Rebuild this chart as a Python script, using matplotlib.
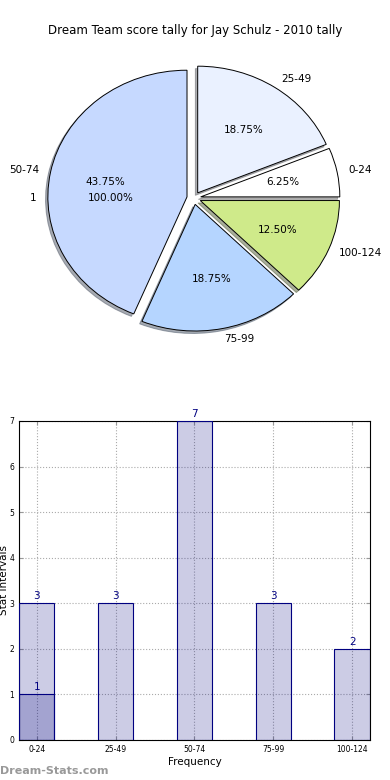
import matplotlib
matplotlib.use("Agg")
import matplotlib.pyplot as plt
import numpy as np

# data
intervals = ["0-24", "25-49", "50-74", "75-99", "100-124"]
pie_counts = [1, 3, 7, 3, 2]
bar_counts = [3, 3, 7, 3, 2]
extra_labels = ["1"]
extra_counts = [1]
pie_colors = ["#FFFFFF", "#EAF1FF", "#C6D9FF", "#B5D5FF", "#CFEA8A"]
title = "Dream Team score tally for Jay Schulz - 2010 tally"

fig = plt.figure(figsize=(3.9, 7.8), dpi=100)
fig.patch.set_facecolor("white")

# pie (top)
ax1 = fig.add_axes([0.051, 0.543, 0.892, 0.406])
# single wedge pie that sits behind the main one
w0, t0, p0 = ax1.pie(extra_counts, labels=extra_labels, autopct="%.2f%%",
                     colors=["white"], startangle=0, labeldistance=1.13,
                     wedgeprops=dict(linewidth=0), textprops=dict(fontsize=7.5))
for w in w0:
    w.set_zorder(0)
w1, t1, p1 = ax1.pie(pie_counts, labels=intervals, autopct="%.2f%%",
                     colors=pie_colors, explode=[0.05] * len(pie_counts),
                     startangle=0, labeldistance=1.08,
                     shadow=dict(ox=-0.012, oy=-0.014, shade=0.6),
                     wedgeprops=dict(edgecolor="black", linewidth=0.7),
                     textprops=dict(fontsize=7.5))
for t in list(t0) + list(t1):
    x, y = t.get_position()
    t.set_horizontalalignment("left" if x > 0 else "right")
ax1.set_aspect("auto")
ax1.set_xlim(-1.25, 1.25)
ax1.set_ylim(-1.25, 1.25)
fig.text(0.5, 0.961, title, ha="center", va="center", fontsize=8.5)

# bar chart (bottom)
ax2 = fig.add_axes([0.0487, 0.0513, 0.900, 0.409])
x = np.arange(len(intervals))
width = 0.45
ax2.bar(x, bar_counts, width, color="#000080", alpha=0.2, edgecolor="none", zorder=2)
ax2.bar(x, bar_counts, width, facecolor="none", edgecolor="#000080", linewidth=0.8, zorder=3)
ax2.bar(x[:len(extra_counts)], extra_counts, width, color="#000080", alpha=0.2,
        edgecolor="none", zorder=2)
ax2.bar(x[:len(extra_counts)], extra_counts, width, facecolor="none",
        edgecolor="#000080", linewidth=0.8, zorder=3)
for xi, c in zip(x, bar_counts):
    ax2.text(xi, c + 0.05, str(c), ha="center", va="bottom", color="#000080", fontsize=7.5)
for xi, c in zip(x, extra_counts):
    ax2.text(xi, c + 0.05, str(c), ha="center", va="bottom", color="#000080", fontsize=7.5)

ax2.set_xlim(-width / 2, len(intervals) - 1 + width / 2)
ax2.set_ylim(0, 7)
ax2.set_xticks(x)
ax2.set_xticklabels(intervals, fontsize=5.5)
ax2.set_yticks(range(8))
ax2.tick_params(axis="y", labelsize=5.5)
ax2.tick_params(direction="in", top=True, right=True, length=3, color="#999999")
ax2.grid(True, linestyle=":", color="#aaaaaa", linewidth=0.8, zorder=0)
ax2.set_axisbelow(True)
ax2.set_xlabel("Frequency", fontsize=7.5, labelpad=2)
ax2.set_ylabel("Stat Intervals", fontsize=7.5, labelpad=0.5)
for s in ax2.spines.values():
    s.set_linewidth(0.8)

fig.text(0.0, 0.012, "Dream-Stats.com", color="#999999", fontsize=8,
         fontweight="bold", ha="left", va="center")

fig.savefig("out.png", dpi=100)
